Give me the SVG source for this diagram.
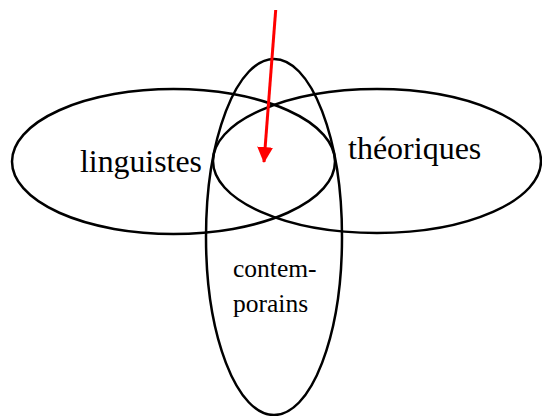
<svg xmlns="http://www.w3.org/2000/svg" width="542" height="416" viewBox="0 0 542 416">
<style>
.e{fill:none;stroke:#000;stroke-width:2.5}
.t{font-family:"Liberation Serif","Times New Roman",serif;fill:#000}
</style>
<defs>
<marker id="ah" markerUnits="userSpaceOnUse" markerWidth="16" markerHeight="16" refX="15" refY="8" orient="auto" viewBox="0 0 16 16">
<path d="M0,0 L16,8 L0,16 Z" fill="#f00"/>
</marker>
</defs>
<g id="linguistes">
<ellipse class="e" cx="173.5" cy="161.5" rx="161.5" ry="72.5"/>
<text class="t" x="80" y="172" font-size="31.8">linguistes</text>
</g>
<g id="theoriques">
<ellipse class="e" cx="377" cy="161" rx="164" ry="72"/>
<text class="t" x="348" y="159" font-size="32">théoriques</text>
</g>
<g id="contemporains">
<ellipse class="e" cx="274" cy="237" rx="68" ry="178"/>
<text class="t" x="233" y="277" font-size="25.5">contem-</text>
<text class="t" x="233" y="312" font-size="25.5">porains</text>
</g>
<g id="connectors">
<line x1="275.7" y1="10" x2="264" y2="162" stroke="#f00" stroke-width="3" marker-end="url(#ah)"/>
</g>
</svg>
